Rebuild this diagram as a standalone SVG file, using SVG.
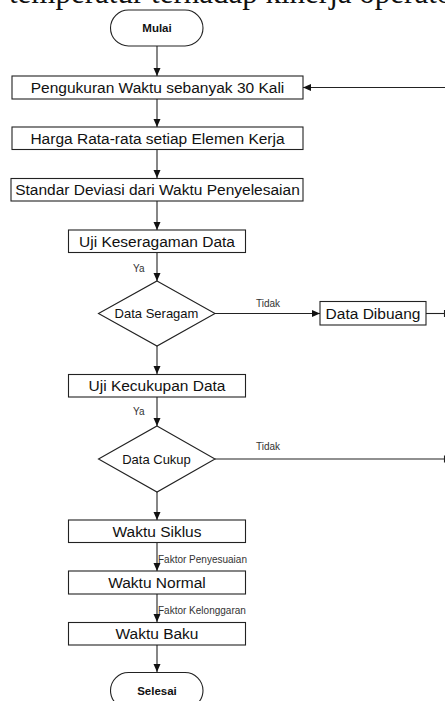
<svg xmlns="http://www.w3.org/2000/svg" width="445" height="701" viewBox="0 0 445 701">
<defs>
<marker id="ah" viewBox="0 0 8 8" refX="8" refY="4" markerWidth="8" markerHeight="8" markerUnits="userSpaceOnUse" orient="auto">
<path d="M0,0.5 L8,4 L0,7.5 Z" fill="#111"/>
</marker>
<style>
.box{fill:#fff;stroke:#222;stroke-width:1.1}
.t{font-family:"Liberation Sans",Arial,sans-serif;font-size:15.5px;fill:#111;text-anchor:middle}
.d{font-family:"Liberation Sans",Arial,sans-serif;font-size:13px;fill:#111;text-anchor:middle}
.b{font-family:"Liberation Sans",Arial,sans-serif;font-size:11.5px;font-weight:bold;fill:#111;text-anchor:middle}
.s{font-family:"Liberation Sans",Arial,sans-serif;font-size:10px;fill:#333}
.c{fill:none;stroke:#222;stroke-width:1.1}
</style>
</defs>
<rect width="445" height="701" fill="#fff"/>
<text x="9" y="3" font-family="Liberation Serif,serif" font-size="31" fill="#111">temperatur terhadap kinerja operator</text>

<g id="connectors">
<line class="c" x1="157" y1="46" x2="157" y2="76" marker-end="url(#ah)"/>
<line class="c" x1="157" y1="99" x2="157" y2="127" marker-end="url(#ah)"/>
<line class="c" x1="157" y1="149" x2="157" y2="178" marker-end="url(#ah)"/>
<line class="c" x1="157" y1="201" x2="157" y2="230" marker-end="url(#ah)"/>
<line class="c" x1="157" y1="252" x2="157" y2="281" marker-end="url(#ah)"/>
<line class="c" x1="157" y1="346" x2="157" y2="374" marker-end="url(#ah)"/>
<line class="c" x1="215" y1="313.5" x2="320" y2="313.5" marker-end="url(#ah)"/>
<line class="c" x1="426" y1="313.5" x2="445" y2="313.5"/>
<line class="c" x1="444.5" y1="310" x2="444.5" y2="317"/>
<line class="c" x1="157" y1="397" x2="157" y2="426" marker-end="url(#ah)"/>
<line class="c" x1="215" y1="459" x2="445" y2="459"/>
<line class="c" x1="444.5" y1="455.5" x2="444.5" y2="462.5"/>
<line class="c" x1="445" y1="87.5" x2="303" y2="87.5" marker-end="url(#ah)"/>
<line class="c" x1="157" y1="492" x2="157" y2="520" marker-end="url(#ah)"/>
<line class="c" x1="157" y1="542" x2="157" y2="571" marker-end="url(#ah)"/>
<line class="c" x1="157" y1="594" x2="157" y2="622" marker-end="url(#ah)"/>
<line class="c" x1="157" y1="645" x2="157" y2="672" marker-end="url(#ah)"/>
<text class="s" x="133" y="271.5">Ya</text>
<text class="s" x="256" y="306.5">Tidak</text>
<text class="s" x="133" y="415">Ya</text>
<text class="s" x="256" y="450">Tidak</text>
<text class="s" x="158" y="562.5">Faktor Penyesuaian</text>
<text class="s" x="158" y="613.5">Faktor Kelonggaran</text>
</g>

<g id="mulai"><rect class="box" x="110.5" y="10" width="92.5" height="36" rx="18" ry="18"/><text class="b" x="157" y="32">Mulai</text></g>
<g id="pengukuran"><rect class="box" x="12" y="76" width="291" height="23"/><text class="t" x="157.5" y="93">Pengukuran Waktu sebanyak 30 Kali</text></g>
<g id="harga"><rect class="box" x="12" y="127" width="291" height="22.5"/><text class="t" x="157.5" y="143.5">Harga Rata-rata setiap Elemen Kerja</text></g>
<g id="standar"><rect class="box" x="11" y="178.5" width="292" height="22.5"/><text class="t" x="157.5" y="195">Standar Deviasi dari Waktu Penyelesaian</text></g>
<g id="uji-keseragaman"><rect class="box" x="68.5" y="230" width="177" height="22.5"/><text class="t" x="157" y="246.5">Uji Keseragaman Data</text></g>
<g id="data-seragam"><polygon class="box" points="157,281 215,313.5 157,346 98.5,313.5"/><text class="d" x="156.5" y="318">Data Seragam</text></g>
<g id="data-dibuang"><rect class="box" x="320" y="301.5" width="106" height="23.5"/><text class="t" x="373" y="318.5">Data Dibuang</text></g>
<g id="uji-kecukupan"><rect class="box" x="68.5" y="374.5" width="177" height="22.5"/><text class="t" x="157" y="391">Uji Kecukupan Data</text></g>
<g id="data-cukup"><polygon class="box" points="157,426 215,459 157,492 98.5,459"/><text class="d" x="156.5" y="463.5">Data Cukup</text></g>
<g id="waktu-siklus"><rect class="box" x="68.5" y="520" width="177" height="22.5"/><text class="t" x="157" y="536.5">Waktu Siklus</text></g>
<g id="waktu-normal"><rect class="box" x="68.5" y="571" width="177" height="23"/><text class="t" x="157" y="587.5">Waktu Normal</text></g>
<g id="waktu-baku"><rect class="box" x="68.5" y="622.5" width="177" height="22.5"/><text class="t" x="157" y="639">Waktu Baku</text></g>
<g id="selesai"><rect class="box" x="110.5" y="672.5" width="92.5" height="36" rx="18" ry="18"/><text class="b" x="157" y="694.5">Selesai</text></g>
</svg>
